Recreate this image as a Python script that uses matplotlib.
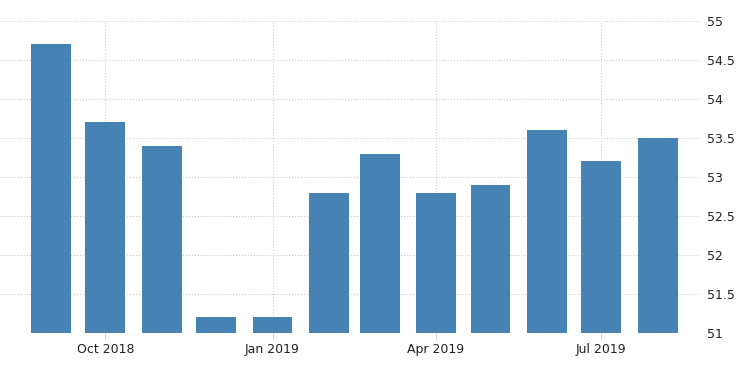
import numpy as np
import pandas as pd
import matplotlib
matplotlib.use("Agg")
import matplotlib.pyplot as plt
import matplotlib.dates as mdates

# monthly values, Sep 2018 - Aug 2019
months = pd.date_range("2018-09-01", "2019-08-01", freq="MS")
values = [54.7, 53.7, 53.4, 51.2, 51.2, 52.8, 53.3, 52.8, 52.9, 53.6, 53.2, 53.5]

xtick_dates = pd.to_datetime(["2018-10-01", "2019-01-01", "2019-04-01", "2019-07-01"])
xtick_labels = ["Oct 2018", "Jan 2019", "Apr 2019", "Jul 2019"]
ytick_vals = [51, 51.5, 52, 52.5, 53, 53.5, 54, 54.5, 55]
ytick_labels = ["51", "51.5", "52", "52.5", "53", "53.5", "54", "54.5", "55"]

fig = plt.figure(figsize=(7.5, 3.73), dpi=100)
ax = fig.add_axes([0.0, 0.107, 0.935, 0.837])

ax.bar(months, np.array(values) - 51, bottom=51, width=22, color="#4682b4", zorder=2)

ax.set_ylim(51, 55)
ax.set_xlim(pd.Timestamp("2018-08-04"), pd.Timestamp("2019-08-25"))

ax.set_xticks(xtick_dates)
ax.set_xticklabels(xtick_labels, fontsize=9, color="#222222")
ax.set_yticks(ytick_vals)
ax.set_yticklabels(ytick_labels, fontsize=9, color="#222222")
ax.yaxis.tick_right()

ax.tick_params(axis="y", length=0, pad=4)
ax.tick_params(axis="x", length=4, color="#cccccc", pad=3)

ax.grid(True, color="#cccccc", linestyle=":", linewidth=0.8, zorder=0)
for s in ax.spines.values():
    s.set_visible(False)

fig.savefig("out.png", dpi=100)
